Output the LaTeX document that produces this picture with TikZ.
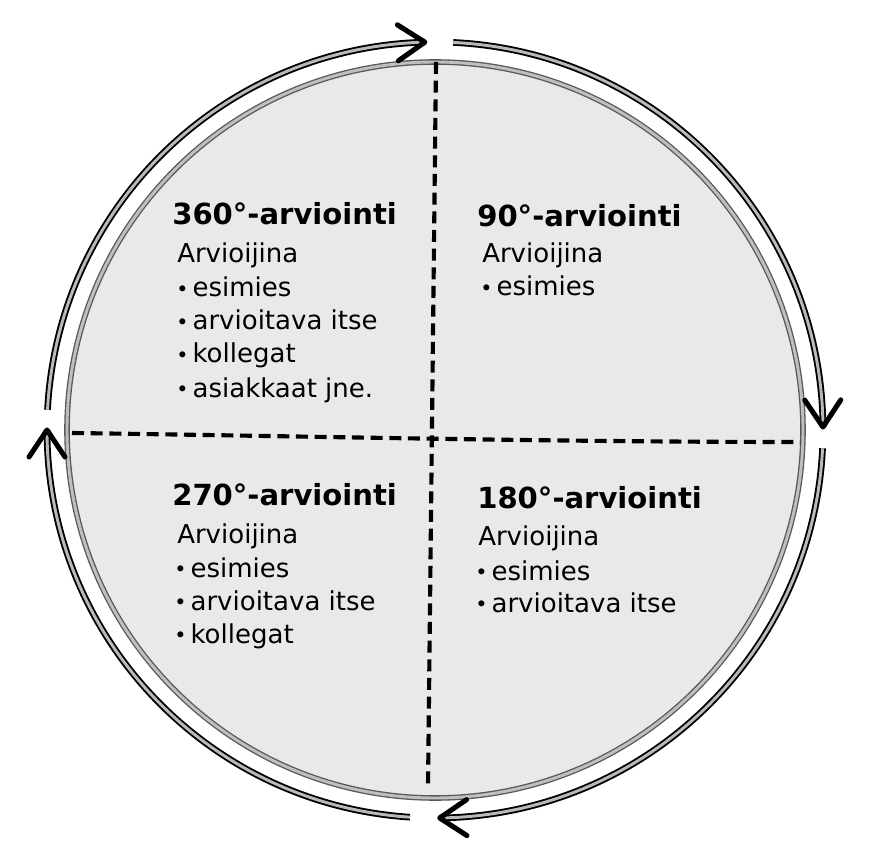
\documentclass[tikz,border=0pt]{standalone}
\usepackage{fontspec}
\setmainfont{DejaVu Sans}
\usetikzlibrary{calc}
\newcommand{\mybul}{\makebox[10pt][l]{\kern-2.2pt\raisebox{0.6pt}{\fontsize{15.5}{15.5}\selectfont •}}}
\begin{document}
\begin{tikzpicture}[x=0.75pt,y=0.75pt,
  ttl/.style={font=\fontsize{21.8}{26}\selectfont\bfseries, anchor=base west, inner sep=0pt},
  txt/.style={font=\fontsize{19.5}{24}\selectfont, anchor=base west, inner sep=0pt},
  ring/.style={draw=black, line width=1.4pt, double=gray!55, double distance=2.2pt},
  barb/.style={draw=black, line width=3.8pt, line cap=round, line join=round},
  disc/.style={draw=black!65, line width=1pt, double=gray!50, double distance=2.2pt, fill=gray!17},
  divider/.style={draw=black, line width=3.1pt, dash pattern=on 9pt off 5pt}
]
\useasboundingbox (0,0) rectangle (880,861);
\coordinate (c) at (435,431);
% inner disc
\draw[disc] (c) circle[radius=368];
% dividers
\coordinate (vtop) at (436,799);
\coordinate (vbot) at (428,73);
\draw[divider] (vtop) -- (vbot);
\coordinate (hl) at (72,428);
\coordinate (hr) at (800,419);
\draw[divider] (hl) .. controls (300,425) and (550,419) .. (hr);
% outer cycle arrows
\draw[ring] ($(c)+(177:388)$) arc[start angle=177, end angle=91.5, radius=388] coordinate (t1);
\draw[barb, shift={(t1)}, rotate=1.5] (-27,18) -- (0,0) -- (-27,-18);
\draw[ring] ($(c)+(87.3:388)$) arc[start angle=87.3, end angle=0.44, radius=388] coordinate (t2);
\draw[barb, shift={(t2)}, rotate=-89.56] (-27,18) -- (0,0) -- (-27,-18);
\draw[ring] ($(c)+(-2.7:388)$) arc[start angle=-2.7, end angle=-89.3, radius=388] coordinate (t3);
\draw[barb, shift={(t3)}, rotate=-179.3] (-27,18) -- (0,0) -- (-27,-18);
\draw[ring] ($(c)+(-93.7:388)$) arc[start angle=-93.7, end angle=-180, radius=388] coordinate (t4);
\draw[barb, shift={(t4)}, rotate=90] (-27,18) -- (0,0) -- (-27,-18);
% 360
\node[ttl] (q1t) at (172,636) {360°-arviointi};
\node[txt] (q1a) at (177,598) {Arvioijina};
\node[txt] (q1b1) at (179,564) {\mybul esimies};
\node[txt] (q1b2) at (179,531) {\mybul arvioitava itse};
\node[txt] (q1b3) at (179,498) {\mybul kollegat};
\node[txt] (q1b4) at (179,464) {\mybul asiakkaat jne.};
% 90
\node[ttl] (q2t) at (477,634) {90°-arviointi};
\node[txt] (q2a) at (482,598) {Arvioijina};
\node[txt] (q2b1) at (483,565) {\mybul esimies};
% 270
\node[ttl] (q3t) at (172,356) {270°-arviointi};
\node[txt] (q3a) at (177,318) {Arvioijina};
\node[txt] (q3b1) at (177,284) {\mybul esimies};
\node[txt] (q3b2) at (177,251) {\mybul arvioitava itse};
\node[txt] (q3b3) at (177,218) {\mybul kollegat};
% 180
\node[ttl] (q4t) at (477,353) {180°-arviointi};
\node[txt] (q4a) at (478,316) {Arvioijina};
\node[txt] (q4b1) at (478,281) {\mybul esimies};
\node[txt] (q4b2) at (478,249) {\mybul arvioitava itse};
\end{tikzpicture}
\end{document}
